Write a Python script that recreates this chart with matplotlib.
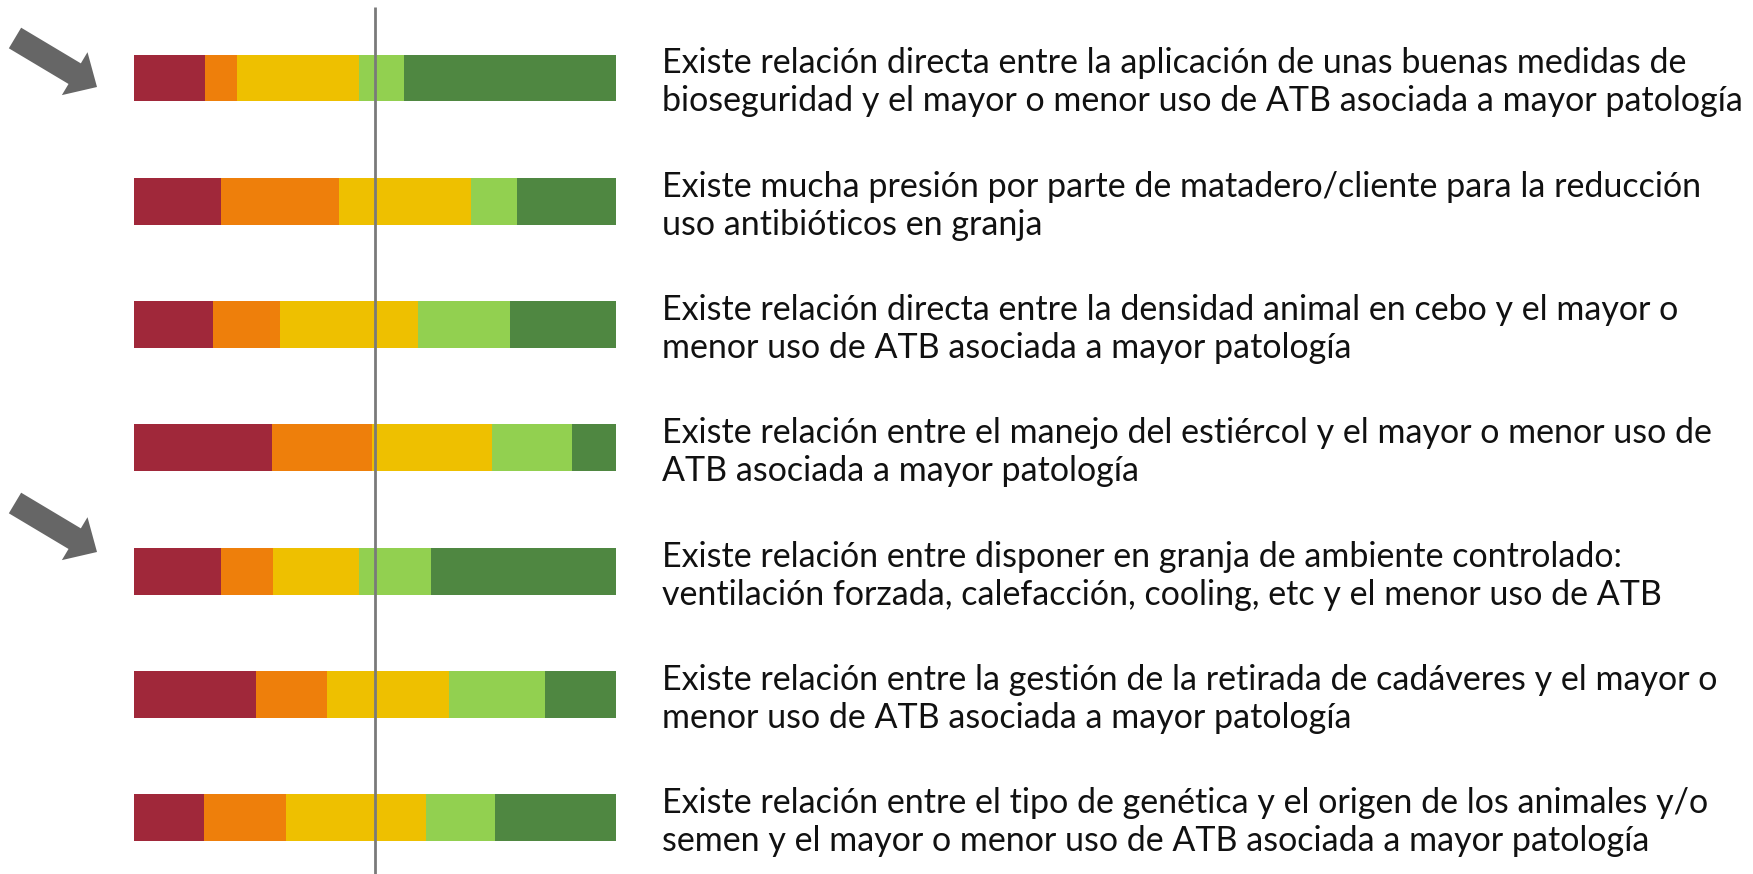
import matplotlib
matplotlib.use("Agg")
import matplotlib.pyplot as plt
from matplotlib.patches import FancyArrow
from matplotlib.transforms import IdentityTransform, blended_transform_factory, offset_copy
import numpy as np

# ---- data (percent of responses per statement) ----
statements = [
    "Existe relación directa entre la aplicación de unas buenas medidas de\nbioseguridad y el mayor o menor uso de ATB asociada a mayor patología",
    "Existe mucha presión por parte de matadero/cliente para la reducción\nuso antibióticos en granja",
    "Existe relación directa entre la densidad animal en cebo y el mayor o\nmenor uso de ATB asociada a mayor patología",
    "Existe relación entre el manejo del estiércol y el mayor o menor uso de\nATB asociada a mayor patología",
    "Existe relación entre disponer en granja de ambiente controlado:\nventilación forzada, calefacción, cooling, etc y el menor uso de ATB",
    "Existe relación entre la gestión de la retirada de cadáveres y el mayor o\nmenor uso de ATB asociada a mayor patología",
    "Existe relación entre el tipo de genética y el origen de los animales y/o\nsemen y el mayor o menor uso de ATB asociada a mayor patología",
]
muy_desacuerdo = [14.8, 18.0, 16.4, 28.7, 18.0, 25.4, 14.5]
desacuerdo     = [6.5, 24.6, 13.8, 20.7, 10.9, 14.7, 17.1]
neutral        = [25.3, 27.3, 28.8, 24.8, 17.7, 25.3, 29.0]
de_acuerdo     = [9.4, 9.5, 19.0, 16.6, 15.0, 19.9, 14.4]
muy_de_acuerdo = [44.0, 20.6, 22.0, 9.2, 38.3, 14.6, 25.0]
highlighted = [0, 4]  # statements marked with an arrow

series = [muy_desacuerdo, desacuerdo, neutral, de_acuerdo, muy_de_acuerdo]
colors = ["#A0283A", "#EE7F0B", "#EEC000", "#92D050", "#4F8741"]

W, H = 1753, 874
fig = plt.figure(figsize=(W / 100, H / 100), dpi=100)
fig.patch.set_facecolor("white")

spacing = 123.3
first_c = 78.0
ax = fig.add_axes([134 / W, 0, 482 / W, 1])
ax.set_ylim((H - first_c) / spacing, -first_c / spacing)
ax.set_xlim(0, 100)
ax.axis("off")

y = np.arange(len(statements))
left = np.zeros(len(statements))
for vals, c in zip(series, colors):
    v = np.array(vals)
    ax.barh(y, v, left=left, height=0.38, color=c, edgecolor="none")
    left += v

ax.plot([50, 50], [(7 - first_c) / spacing, (H - first_c) / spacing],
        color="#7A7A7A", lw=2.0, solid_capstyle="butt", zorder=5)

# text labels
fam = "Lato"
trans = blended_transform_factory(fig.transFigure, ax.transData)
tx = 662 / W
fs = 22
probe = fig.text(0, 0, "bioseguridad y el mayor o menor uso de ATB asociada a mayor patología",
                 fontsize=fs, family=fam)
fig.canvas.draw()
wpx = probe.get_window_extent().width
probe.remove()
fs = fs * 1077 / wpx

for i, s in enumerate(statements):
    l1, l2 = s.split("\n")
    t1 = offset_copy(trans, fig=fig, y=4.5 * 0.72, units="points")
    t2 = offset_copy(trans, fig=fig, y=-33.5 * 0.72, units="points")
    ax.text(tx, i, l1, transform=t1, fontsize=fs, family=fam, va="baseline",
            ha="left", color="#111111")
    ax.text(tx, i, l2, transform=t2, fontsize=fs, family=fam, va="baseline",
            ha="left", color="#111111")

# arrows (pixel coordinates, origin bottom-left)
for i in highlighted:
    tip_y = H - 87 if i == 0 else H - 552
    arr = FancyArrow(15, tip_y + 49, 82, -49, width=24, head_width=50,
                     head_length=26, length_includes_head=True,
                     color="#666666", lw=0, transform=IdentityTransform())
    fig.patches.append(arr)

fig.savefig("out.png", dpi=100, facecolor="white")
